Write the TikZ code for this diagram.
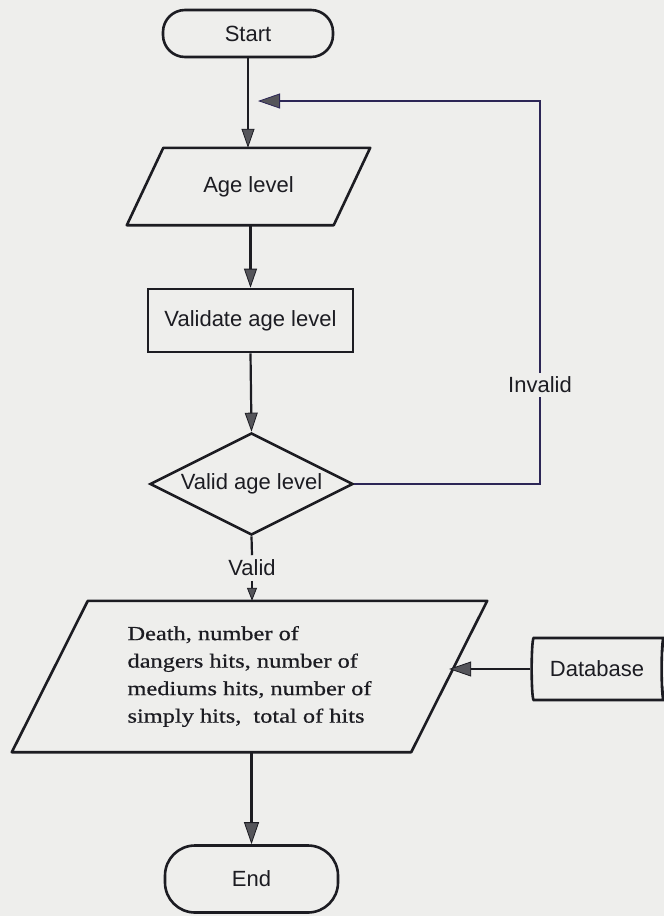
\documentclass[tikz,border=0pt]{standalone}
\usepackage{fontspec}
\setmainfont{Liberation Sans}
\newfontfamily\wideserif[FakeStretch=1.22,FakeBold=0.6]{Liberation Serif}
\usetikzlibrary{shapes.geometric,arrows.meta}
\definecolor{paper}{HTML}{EEEEEC}
\definecolor{ink}{HTML}{1C1C22}
\definecolor{loopink}{HTML}{2C2656}
\definecolor{tipfill}{HTML}{55555A}

\begin{document}
\begin{tikzpicture}[x=1pt,y=-1pt,
  every node/.style={font=\fontsize{22}{26}\selectfont, text=ink},
  box/.style={draw=ink, line width=2.6pt},
  outline/.style={draw=ink, line width=2.6pt, line join=round},
  term/.style={box, rectangle, rounded corners=#1, inner sep=0pt},
  body/.style={rectangle, inner sep=0pt},
  conn/.style={draw=ink, line width=2.2pt},
  link/.style={conn, -{Triangle[length=19pt,width=13pt,fill=tipfill,line width=0.8pt]}},
  biglink/.style={conn, -{Triangle[length=22pt,width=15pt,fill=tipfill,line width=0.8pt]}},
  smalllink/.style={conn, -{Triangle[length=13pt,width=10pt,fill=tipfill,line width=0.8pt]}},
  retlink/.style={biglink, draw=loopink},
]
% paper and page frame
\fill[paper] (0,0) rectangle (664,916);
\useasboundingbox (0,0) rectangle (664,916);

% flowchart steps
\node[term=22pt, minimum width=170pt, minimum height=47pt] (start) at (248,33.5) {Start};

% input parallelogram: the node is its upright body, the slanted outline is drawn around it
\node[body, minimum width=170pt, minimum height=77pt] (age) at (248.5,186.5) {Age level};
\draw[outline] (age.north west) -- ([xshift=36.5pt]age.north east) -- (age.south east)
  -- ([xshift=-36.5pt]age.south west) -- cycle;

\node[box, rectangle, minimum width=205pt, minimum height=63pt, inner sep=0pt]
      (check) at (250.5,320.5) {Validate age level};
\node[box, diamond, aspect=2, minimum width=203pt, minimum height=102pt, inner sep=0pt]
      (valid) at (251.5,484) {Valid age level};

% output parallelogram
\node[body, minimum width=323pt, minimum height=151pt, align=left,
      font=\wideserif\fontsize{20}{27.5}\selectfont] (result) at (249.5,676.5)
      {Death, number of\\dangers hits, number of\\mediums hits, number of\\simply hits,\hspace{0.6em}total of hits};
\draw[outline] (result.north west) -- ([xshift=76pt]result.north east) -- (result.south east)
  -- ([xshift=-76pt]result.south west) -- cycle;
\coordinate (result-e) at ([xshift=38pt]result.east);

\node[box, cylinder, aspect=0.25, minimum height=134pt, minimum width=62pt, inner sep=0pt]
      (db) at (597,669) {Database};
\node[term=30pt, minimum width=173pt, minimum height=67pt] (stop) at (251.5,879) {End};

% branch label and loop corners
\node[inner sep=0pt] (vlab) at (252,567.5) {Valid};
\coordinate (ret) at (540,101);
\coordinate (retin) at (258,101);

% connectors
\draw[link] (start.south) -- (start.south |- age.north);
\draw[link] (age.south -| check.north) -- (check.north);
\draw[link] (check.south) -- (valid.north);
\draw[conn] (valid.south) -- ([yshift=4pt]vlab.north);
\draw[smalllink] ([yshift=-5pt]vlab.south) -- (vlab.south |- result.north);
\draw[retlink] (valid.east) -| (ret) -- (retin);
\node[fill=paper, inner xsep=2pt, inner ysep=4pt] (inv) at (540,385) {Invalid};
\draw[biglink] (db.west) -- (db.west -| result-e);
\draw[biglink] (result.south -| stop.north) -- (stop.north);
\end{tikzpicture}
\end{document}
